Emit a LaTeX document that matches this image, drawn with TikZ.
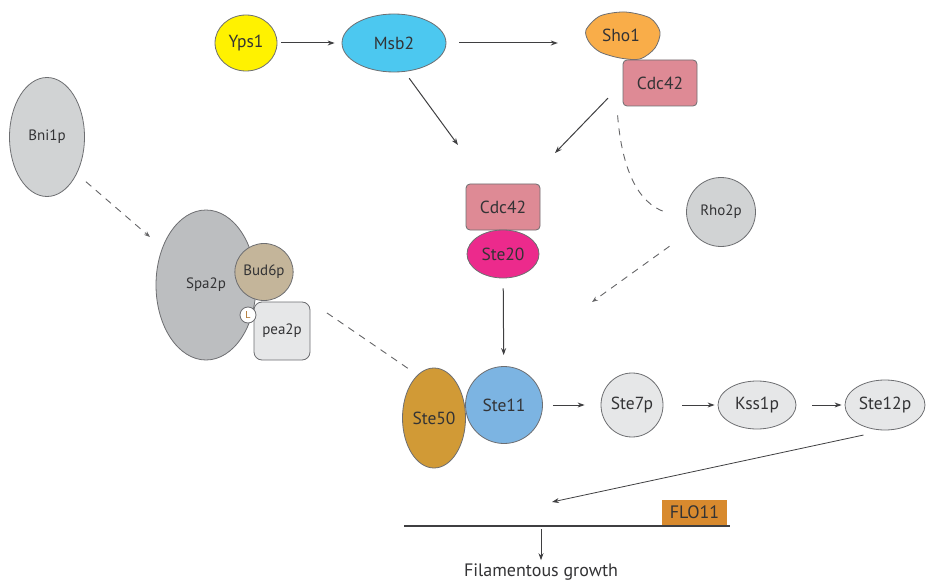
\documentclass[tikz,border=0pt]{standalone}
\usepackage{fontspec}
\setmainfont{PT Sans}
\usetikzlibrary{shapes.geometric}
\usetikzlibrary{arrows.meta}

\definecolor{outl}{HTML}{6D6E71}
\definecolor{txt}{HTML}{333335}
\definecolor{arr}{HTML}{3F3F41}
\definecolor{ypscol}{HTML}{FFF200}
\definecolor{msbcol}{HTML}{4CC8F0}
\definecolor{shocol}{HTML}{F9AD49}
\definecolor{cdccol}{HTML}{DE8A95}
\definecolor{stetwenty}{HTML}{EC2A8C}
\definecolor{stefifty}{HTML}{D19A36}
\definecolor{steeleven}{HTML}{7CB4E2}
\definecolor{pale}{HTML}{E6E7E8}
\definecolor{midgray}{HTML}{D1D3D4}
\definecolor{spacol}{HTML}{BCBEC0}
\definecolor{budcol}{HTML}{C4B59A}
\definecolor{flocol}{HTML}{D88A2E}

\begin{document}
\begin{tikzpicture}[x=1pt,y=-1pt,
  prot/.style={ellipse,draw=outl,line width=.8pt,inner sep=0pt,text=txt,font=\fontsize{17.5}{17.5}\selectfont},
  small/.style={font=\fontsize{15}{15}\selectfont},
  box/.style={rectangle,rounded corners=4pt,draw=outl,line width=.8pt,inner sep=0pt,text=txt,font=\fontsize{17.5}{17.5}\selectfont},
  act/.style={draw=arr,line width=1pt,-{Stealth[length=7pt,width=5pt]}},
  inh/.style={draw=arr!80,line width=.9pt,dash pattern=on 7pt off 6pt,-{Stealth[length=6pt,width=4.5pt]}}]
  \useasboundingbox (0,0) rectangle (931,588);

  % receptor side
  \node[prot,fill=ypscol,minimum width=62pt,minimum height=56pt] (yps1) at (246,43) {Yps1};
  \node[prot,fill=msbcol,minimum width=104pt,minimum height=58pt] (msb2) at (394,43) {Msb2};
  \draw[fill=shocol,draw=outl,line width=.8pt] plot[smooth cycle] coordinates
    {(586,30) (600,16) (625,12) (650,18) (660,32) (655,48) (640,59) (620,58) (600,52) (589,42)};
  \node[text=txt,font=\fontsize{17.5}{17.5}\selectfont,minimum width=74pt] (sho1) at (621,35) {Sho1};
  \node[box,fill=cdccol,minimum width=74pt,minimum height=46pt] (cdc42a) at (660,83) {Cdc42};

  \node[box,fill=cdccol,minimum width=74pt,minimum height=46pt] (cdc42b) at (503,207) {Cdc42};
  \node[prot,fill=stetwenty,minimum width=72pt,minimum height=48pt] (ste20) at (503,254) {Ste20};
  \node[prot,small,fill=midgray,minimum width=69pt,minimum height=69pt] (rho2p) at (721,212) {Rho2p};

  % polarisome
  \node[prot,small,fill=midgray,minimum width=75pt,minimum height=119pt] (bni1p) at (47,137) {Bni1p};
  \node[prot,small,fill=spacol,minimum width=100pt,minimum height=150pt] (spa2p) at (206,285) {Spa2p};
  \node[box,small,fill=pale,rounded corners=8pt,minimum width=56pt,minimum height=58pt] (pea2p) at (282,331) {pea2p};
  \node[prot,small,fill=budcol,minimum width=57pt,minimum height=57pt] (bud6p) at (264,272) {Bud6p};
  \node[prot,fill=white,minimum width=16pt,minimum height=16pt,font=\fontsize{10}{10}\selectfont,text=flocol!80!black] (lnk) at (248,315) {L};

  % MAPK cascade
  \node[prot,fill=stefifty,minimum width=63pt,minimum height=100pt] (ste50) at (434,418) {Ste50};
  \node[prot,fill=steeleven,minimum width=77pt,minimum height=77pt] (ste11) at (504,405) {Ste11};
  \node[prot,fill=pale,minimum width=62pt,minimum height=64pt] (ste7p) at (632,405) {Ste7p};
  \node[prot,fill=pale,minimum width=78pt,minimum height=48pt] (kss1p) at (757,405) {Kss1p};
  \node[prot,fill=pale,minimum width=80pt,minimum height=50pt] (ste12p) at (885,405) {Ste12p};

  % promoter
  \coordinate (g1) at (404,526);
  \coordinate (g2) at (730,526);
  \node[fill=flocol,text=txt,inner sep=0pt,minimum width=65pt,minimum height=25pt,font=\fontsize{18}{18}\selectfont] (flo11) at (694.5,512.5) {FLO11};
  \draw[draw=arr,line width=1.6pt] (g1) -- (g2);
  \coordinate (g3) at (541,529);
  \node[text=txt,font=\fontsize{18}{18}\selectfont] (growth) at (541,572) {Filamentous growth};

  \coordinate (hub1) at (458,145);
  \coordinate (hub2) at (555,153);
  \coordinate (hub3) at (592,302);
  \coordinate (hub4) at (150,237);
  \coordinate (hub5) at (552,502);

  \draw[act,shorten <=4pt,shorten >=7pt] (yps1) -- (msb2);
  \draw[act,shorten <=13pt,shorten >=26pt] (msb2.east) -- (msb2.east -| sho1.west);
  \draw[act,shorten <=8pt] (msb2.-70) -- (hub1);
  \draw[act,shorten <=21pt] (cdc42a.west) -- (hub2);
  \draw[inh,-] ([shift={(-5,9)}]cdc42a.south west) .. controls (622,170) and (638,203) .. ([xshift=-21pt]rho2p.west);
  \draw[inh,shorten <=27pt] (rho2p.212) -- (hub3);
  \draw[inh,shorten <=12pt] (bni1p.-51) -- (hub4);
  \draw[inh,-,shorten <=20pt,shorten >=10pt] (pea2p.north east) -- (ste50.111);
  \draw[act,shorten <=10pt,shorten >=11pt] (ste20) -- (ste11);
  \draw[act,shorten <=10pt,shorten >=16pt] (ste11) -- (ste7p);
  \draw[act,shorten <=19pt,shorten >=3pt] (ste7p) -- (kss1p);
  \draw[act,shorten <=16pt,shorten >=3pt] (kss1p) -- (ste12p);
  \draw[act,line width=.8pt,shorten <=22pt] (ste12p.south) -- (hub5);
  \draw[act] (g3) -- (growth);
\end{tikzpicture}
\end{document}
